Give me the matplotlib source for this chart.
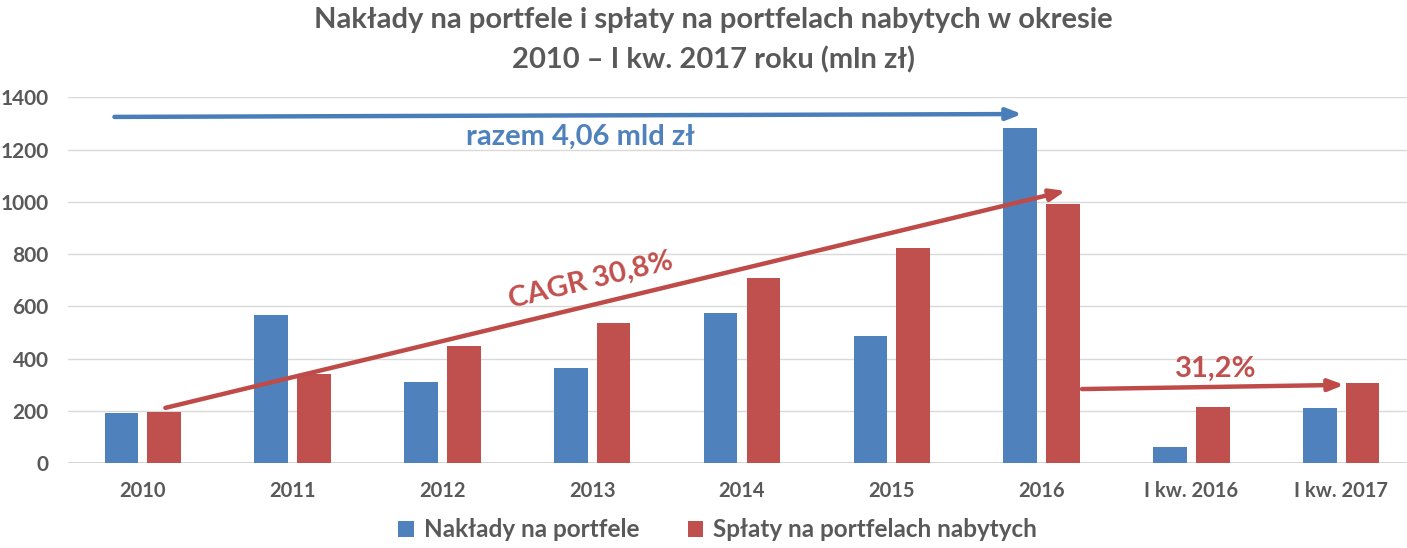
import numpy as np
import matplotlib.pyplot as plt

plt.rcParams['font.family'] = ['Lato', 'DejaVu Sans']

# dane (mln zł)
categories = ["2010", "2011", "2012", "2013", "2014", "2015", "2016", "I kw. 2016", "I kw. 2017"]
naklady = [194, 567, 311, 364, 575, 487, 1283, 62, 212]
splaty = [197, 341, 449, 535, 709, 823, 992, 215, 307]
series_names = ["Nakłady na portfele", "Spłaty na portfelach nabytych"]

# adnotacje: (x0, y0, x1, y1) w jednostkach wykresu
blue_arrow = (-0.19, 1325, 5.87, 1336)
cagr_arrow = (0.15, 212, 6.16, 1042)
q1_arrow = (6.27, 284, 8.02, 300)

BLUE = "#4f81bd"
RED = "#c0504d"
GRAY = "#595959"

fig = plt.figure(figsize=(14.07, 5.48), dpi=100)
ax = fig.add_axes([68 / 1407, 84.7 / 548, (1407 - 68) / 1407, 366 / 548])

x = np.arange(len(categories))
w = 0.225
off = 0.143
ax.bar(x - off, naklady, width=w, color=BLUE, label=series_names[0], zorder=3)
ax.bar(x + off, splaty, width=w, color=RED, label=series_names[1], zorder=3)

ax.set_xlim(-0.5, 8.44)
ax.set_ylim(0, 1400)
ax.set_yticks(range(0, 1401, 200))
ax.grid(axis="y", color="#d9d9d9", linewidth=1, zorder=0)
for s in ax.spines.values():
    s.set_visible(False)
ax.axhline(0, color="#d0d0d0", linewidth=1.2, zorder=2)
ax.tick_params(length=0)
ax.set_xticks(x)
ax.set_xticklabels(categories, fontsize=14.5, fontweight="bold", color=GRAY)
for lab in ax.get_yticklabels():
    lab.set_fontsize(15)
    lab.set_fontweight("bold")
    lab.set_color(GRAY)
ax.tick_params(axis="x", pad=13)
ax.tick_params(axis="y", pad=14)

# strzałki
def arrow(coords, color):
    x0, y0, x1, y1 = coords
    ax.annotate("", xy=(x1, y1), xytext=(x0, y0),
                arrowprops=dict(arrowstyle="-|>,head_length=0.9,head_width=0.35",
                                color=color, lw=3.2, shrinkA=0, shrinkB=0),
                zorder=5)

arrow(blue_arrow, "#4a7ebb")
arrow(cagr_arrow, "#be4b48")
arrow(q1_arrow, "#be4b48")

ax.text(2.92, 1248, "razem 4,06 mld zł", color=BLUE, fontsize=21, fontweight="bold",
        ha="center", va="center", zorder=6)
ax.text(2.99, 700, "CAGR 30,8%", color=RED, fontsize=21, fontweight="bold",
        ha="center", va="center", rotation=13.6, zorder=6)
ax.text(7.165, 360, "31,2%", color=RED, fontsize=21, fontweight="bold",
        ha="center", va="center", zorder=6)

fig.text(0.507, 0.963, "Nakłady na portfele i spłaty na portfelach nabytych w okresie",
         ha="center", va="center", fontsize=21, fontweight="bold", color=GRAY)
fig.text(0.507, 0.89, "2010 – I kw. 2017 roku (mln zł)",
         ha="center", va="center", fontsize=21, fontweight="bold", color=GRAY)

fig.legend(loc="center", bbox_to_anchor=(0.51, 0.033), ncol=2, frameon=False,
           prop=dict(size=17.5, weight="bold"), labelcolor=GRAY,
           handlelength=0.65, handleheight=0.65, handletextpad=0.4, columnspacing=2.0)

fig.savefig("out.png", dpi=100)
